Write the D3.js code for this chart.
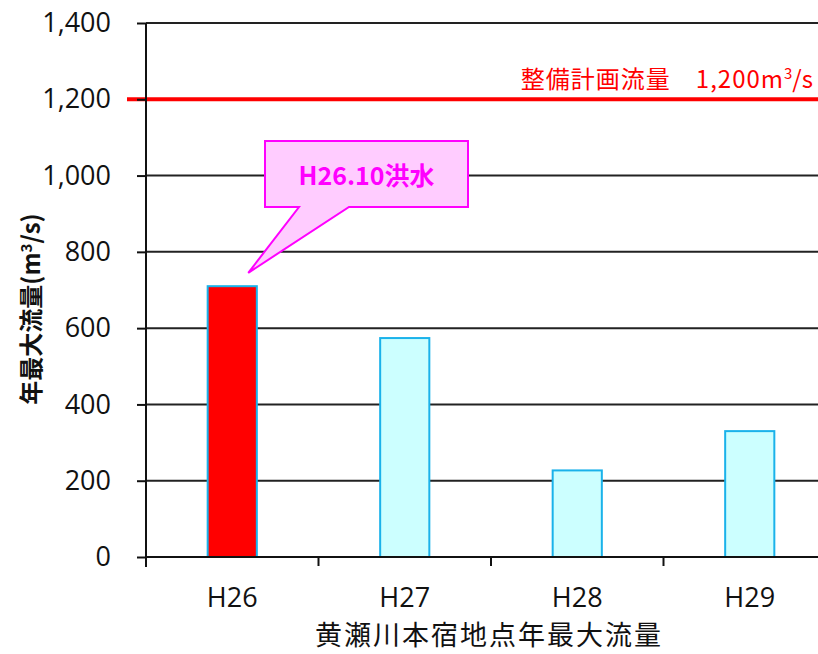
<!DOCTYPE html>
<html><head><meta charset="utf-8">
<script src="https://cdn.jsdelivr.net/npm/d3@7"></script>
<style>body{margin:0;background:#fff}svg{display:block}</style>
</head><body>
<svg id="c" width="818" height="654"></svg>
<script>
const categories = ["H26","H27","H28","H29"];
const values = [710, 574, 227, 330];
const yTicks = [0,200,400,600,800,1000,1200,1400];
const planValue = 1200;
const planLabel = "整備計画流量　1,200m";
const calloutText = "H26.10洪水";
const xTitle = "黄瀬川本宿地点年最大流量";
const yTitle = "年最大流量(m";

const svg = d3.select("#c");
const x = d3.scaleBand().domain(categories).range([146, 836]).padding(0);
const y = d3.scaleLinear().domain([0, 1400]).range([557, 23]);
const numFont = "'Open Sans', sans-serif";
const cjk = "'Noto Sans CJK JP', sans-serif";

// gridlines
svg.append("g").selectAll("line").data(yTicks.filter(d=>d>0)).join("line")
  .attr("x1", 146).attr("x2", 818).attr("y1", d=>y(d)).attr("y2", d=>y(d))
  .attr("stroke", "#222").attr("stroke-width", 2);

// bars
const bw = x.bandwidth()*0.285;
svg.append("g").selectAll("rect").data(categories).join("rect")
  .attr("x", d=>x(d)+x.bandwidth()/2-bw/2)
  .attr("y", (d,i)=>y(values[i]))
  .attr("width", bw)
  .attr("height", (d,i)=>y(0)-y(values[i]))
  .attr("fill", (d,i)=> i===0 ? "#ff0000" : "#ccffff")
  .attr("stroke", "#1ab2ea").attr("stroke-width", 2);

// plan line
svg.append("line").attr("x1", 127).attr("x2", 818)
  .attr("y1", y(planValue)).attr("y2", y(planValue))
  .attr("stroke", "#ff0000").attr("stroke-width", 4);
const pl = svg.append("text").attr("x", 813).attr("y", y(planValue)-11)
  .attr("text-anchor","end").attr("fill","#ff0000")
  .style("font-family", cjk).style("font-size","24px");
pl.append("tspan").style("letter-spacing","1px").text(planLabel);
pl.append("tspan").attr("dy",-9).style("font-size","15px").text("3");
pl.append("tspan").attr("dy",9).text("/s");

// y axis
const yAxis = d3.axisLeft(y).tickValues(yTicks).tickSize(9).tickPadding(26)
  .tickFormat(d3.format(","));
const gy = svg.append("g").attr("transform","translate(146,0)").call(yAxis);
gy.select(".domain").remove();
gy.selectAll(".tick line").attr("stroke","#111").attr("stroke-width",2);
gy.selectAll(".tick text").style("font-family", numFont).style("font-size","27px").attr("fill","#111");
svg.append("line").attr("x1",146).attr("x2",146).attr("y1",y(1400)).attr("y2",y(0)+10)
  .attr("stroke","#111").attr("stroke-width",2);

// x axis
svg.append("line").attr("x1",146).attr("x2",818).attr("y1",y(0)).attr("y2",y(0))
  .attr("stroke","#111").attr("stroke-width",2);
svg.append("g").selectAll("line").data(categories.slice(1)).join("line")
  .attr("x1", d=>x(d)).attr("x2", d=>x(d)).attr("y1", y(0)).attr("y2", y(0)+9)
  .attr("stroke","#111").attr("stroke-width",2);
svg.append("g").selectAll("text").data(categories).join("text")
  .attr("x", d=>x(d)+x.bandwidth()/2).attr("y", 607)
  .attr("text-anchor","middle").attr("fill","#111")
  .style("font-family", numFont).style("font-size","27px").text(d=>d);

// titles
svg.append("text").attr("x", 489).attr("y", 645).attr("text-anchor","middle")
  .attr("fill","#111").style("font-family", cjk).style("font-size","27px")
  .style("letter-spacing","2px").text(xTitle);
const yt = svg.append("text").attr("transform","translate(40,309) rotate(-90)")
  .attr("text-anchor","middle").attr("fill","#111")
  .style("font-family", cjk).style("font-size","24px").style("font-weight","bold");
yt.append("tspan").text(yTitle);
yt.append("tspan").attr("dy",-8).style("font-size","15px").text("3");
yt.append("tspan").attr("dy",8).text("/s)");

// callout
const cx0 = x("H26")+x.bandwidth()/2;
const tipX = cx0+16, tipY = y(745);
const bx0 = 265, bx1 = 468, by0 = 141, by1 = 207;
svg.append("path")
  .attr("d", `M${bx0},${by0}H${bx1}V${by1}H349L${tipX},${tipY}L299,${by1}H${bx0}Z`)
  .attr("fill","#ffccff").attr("stroke","#ff00ff").attr("stroke-width",2);
svg.append("text").attr("x",(bx0+bx1)/2).attr("y",185).attr("text-anchor","middle")
  .attr("fill","#ff00ff").style("font-family", cjk).style("font-size","25px")
  .style("font-weight","bold").text(calloutText);
</script>
</body></html>
